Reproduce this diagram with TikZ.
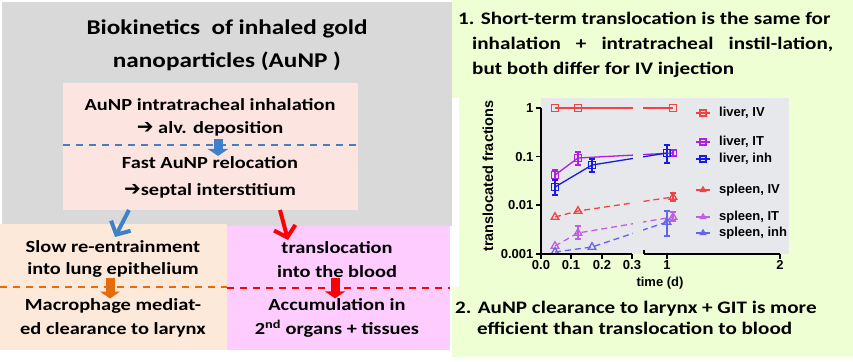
\documentclass[tikz,border=0pt]{standalone}
\usepackage{fontspec}
\setmainfont{Carlito}[FakeStretch=1.2]
\newfontfamily\arrowfont{DejaVu Sans}
\newfontfamily\chartfont{Liberation Sans}
\usetikzlibrary{arrows.meta,positioning,plotmarks}

\definecolor{panelgray}{HTML}{D9D9D9}
\definecolor{toppink}{HTML}{FCE5E0}
\definecolor{peach}{HTML}{FDE9D9}
\definecolor{lilac}{HTML}{FFCCFF}
\definecolor{lightgreen}{HTML}{EFFFD4}
\definecolor{plotgray}{HTML}{E6E8EC}
\definecolor{dashblue}{HTML}{4A7EBB}
\definecolor{arrowblue}{HTML}{3F80C8}
\definecolor{dashorange}{HTML}{E46C0A}
\definecolor{ivred}{HTML}{F04444}
\definecolor{itpurple}{HTML}{B020E0}
\definecolor{inhblue}{HTML}{1A1AE6}
\definecolor{itorchid}{HTML}{C060E0}
\definecolor{inhviolet}{HTML}{6464F0}

\newcommand{\rarrow}{{\arrowfont\fontsize{20}{20}\selectfont ➔}}

\begin{document}
\begin{tikzpicture}[x=1pt, y=-1pt,
  heading/.style={font=\bfseries\fontsize{21}{33}\selectfont, align=center, inner sep=0pt},
  boxtext/.style={font=\bfseries\fontsize{17}{23}\selectfont, align=center, inner sep=0pt},
  notetext/.style={font=\bfseries\fontsize{17.6}{25}\selectfont, align=left, inner sep=0pt, anchor=west},
  fillbox/.style={inner sep=0pt, outer sep=0pt, anchor=north west},
  splitline/.style={line width=1.3pt, dash pattern=on 7pt off 6pt},
  blockarrow/.style={-{Triangle[length=7pt,width=20pt]}, line width=9pt},
  veearrow/.style={-{Straight Barb[length=10pt,width=22pt,line width=4pt]}, line width=4pt},
  ticklabel/.style={font=\chartfont\bfseries\fontsize{13}{15}\selectfont, inner sep=0pt},
  legendtext/.style={font=\chartfont\bfseries\fontsize{13}{15}\selectfont, inner sep=0pt, anchor=west},
  series/.style={line width=1.3pt},
  errbar/.style={line width=1.1pt},
]
\useasboundingbox (0,0) rectangle (853,361);
\fill[white] (0,0) rectangle (853,361);

% left panel: biokinetics scheme
\fill[panelgray] (2,2) rectangle (452,226);
\node[heading] (title) at (227,45) {Biokinetics\ \ of inhaled gold\\nanoparticles (AuNP )};

\node[fillbox, fill=toppink, minimum width=295pt, minimum height=127pt] (topbox) at (63,83) {};
\node[boxtext] (deposit) at (210,117) {AuNP intratracheal inhalation\\ \rarrow\ alv. deposition};
\node[boxtext, font=\bfseries\fontsize{17}{27}\selectfont] (reloc) at (210,177) {Fast AuNP relocation\\\rarrow septal interstitium};
\draw[splitline, dashblue] (topbox.west |- 0,145) -- (topbox.east |- 0,145);
\draw[blockarrow, arrowblue] ([xshift=8pt,yshift=-3pt]deposit.south) -- ([xshift=8pt]reloc.north);

\node[fillbox, fill=peach, minimum width=227pt, minimum height=126pt] (peachbox) at (0,224) {};
\node[fillbox, fill=lilac, minimum width=223pt, minimum height=124pt] (pinkbox) at (227,226) {};

\node[boxtext, font=\bfseries\fontsize{17}{22}\selectfont] (slow) at (113,259) {Slow re-entrainment\\into lung epithelium};
\node[boxtext, font=\bfseries\fontsize{17}{24}\selectfont] (macro) at (113,318) {Macrophage mediat-\\ed clearance to larynx};
\node[boxtext, font=\bfseries\fontsize{17}{24}\selectfont] (blood) at (337,260) {translocation\\into the blood};
\node[boxtext, font=\bfseries\fontsize{17}{24}\selectfont] (accum) at (337,318) {Accumulation in\\2\textsuperscript{nd} organs + tissues};

\draw[splitline, dashorange] (peachbox.west |- 0,287) -- (peachbox.east |- 0,287);
\draw[splitline, red] (pinkbox.west |- 0,288) -- (pinkbox.east |- 0,288);
\draw[blockarrow, dashorange] ([xshift=-3pt]slow.south) -- ([xshift=-3pt]macro.north);
\draw[blockarrow, red] ([xshift=-2pt]blood.south) -- ([xshift=-2pt]accum.north);

\draw[veearrow, arrowblue] ([xshift=66pt]topbox.south west) -- ([xshift=115pt,yshift=-13pt]peachbox.north west);
\draw[veearrow, red] ([xshift=217pt]topbox.south west) -- ([xshift=61pt,yshift=-14pt]pinkbox.north west);

% right panel: findings and chart
\fill[lightgreen] (452,0) rectangle (853,357);
\fill[white] (452,98) rectangle (459,287);
\node[notetext] (note1) at (458,45) {1. Short-term translocation is the same for\\
  \hspace*{14pt}\makebox[361pt][s]{inhalation + intratracheal instil-lation,}\\
  \hspace*{14pt}but both differ for IV injection};
\node[notetext, font=\bfseries\fontsize{17.6}{21}\selectfont] (note2) at (455,318) {2. AuNP clearance to larynx + GIT is more\\
  \hspace*{22pt}efficient than translocation to blood};

\fill[plotgray] (541,98) rectangle (789,254);

% error bars
\foreach \ex/\elo/\ehi in {555/170/180, 578/152/165, 673/150/156}
  \draw[errbar, itpurple] (\ex,\elo) -- (\ex,\ehi) (\ex-3,\elo) -- (\ex+3,\elo) (\ex-3,\ehi) -- (\ex+3,\ehi);
\foreach \ex/\elo/\ehi in {555/180/195, 592/159/172, 667/145/163}
  \draw[errbar, inhblue] (\ex,\elo) -- (\ex,\ehi) (\ex-3,\elo) -- (\ex+3,\elo) (\ex-3,\ehi) -- (\ex+3,\ehi);
\foreach \ex/\elo/\ehi in {673/193/201}
  \draw[errbar, ivred] (\ex,\elo) -- (\ex,\ehi) (\ex-3,\elo) -- (\ex+3,\elo) (\ex-3,\ehi) -- (\ex+3,\ehi);
\foreach \ex/\elo/\ehi in {578/226/239, 673/212/221}
  \draw[errbar, itorchid] (\ex,\elo) -- (\ex,\ehi) (\ex-3,\elo) -- (\ex+3,\elo) (\ex-3,\ehi) -- (\ex+3,\ehi);
\foreach \ex/\elo/\ehi in {667/211/236}
  \draw[errbar, inhviolet] (\ex,\elo) -- (\ex,\ehi) (\ex-3,\elo) -- (\ex+3,\elo) (\ex-3,\ehi) -- (\ex+3,\ehi);

% series lines
\draw[series, ivred] (555,108) -- (578,108) -- (673,108);
\draw[series, itpurple] (555,175) -- (578,158) -- (673,153);
\draw[series, inhblue] (555,187) -- (592,165) -- (667,153);
\draw[series, ivred, dash pattern=on 6pt off 4pt] (555,217) -- (578,211) -- (673,197);
\draw[series, itorchid, dash pattern=on 6pt off 4pt] (555,246) -- (578,233) -- (673,217);
\draw[series, inhviolet, dash pattern=on 6pt off 4pt] (555,252) -- (592,247) -- (667,222);
% axis break
\fill[plotgray] (633,99) rectangle (643,253);

% markers
\draw[series, ivred] plot[only marks, mark=square, mark size=3.8pt, mark options={fill=plotgray}] coordinates {(555,108) (578,108) (673,108)};
\draw[series, itpurple] plot[only marks, mark=square, mark size=3.8pt, mark options={fill=plotgray}] coordinates {(555,175) (578,158) (673,153)};
\draw[series, inhblue] plot[only marks, mark=square, mark size=3.8pt, mark options={fill=plotgray}] coordinates {(555,187) (592,165) (667,153)};
\draw[series, ivred] plot[only marks, mark=triangle, mark size=4.3pt, mark options={fill=plotgray}] coordinates {(555,217) (578,211) (673,197)};
\draw[series, itorchid] plot[only marks, mark=triangle, mark size=4.3pt, mark options={fill=plotgray}] coordinates {(555,246) (578,233) (673,217)};
\draw[series, inhviolet] plot[only marks, mark=triangle, mark size=4.3pt, mark options={fill=plotgray}] coordinates {(555,252) (592,247) (667,222)};

% axes
\draw[line width=1.2pt] (541,108) -- (541,254) -- (632,254) (644,254) -- (780,254);
\foreach \ty/\tl in {108/1, 156.6/0.1, 205/0.01, 254/0.001}
  \draw[line width=1.2pt] (541,\ty) -- (536,\ty) node[ticklabel, anchor=east, xshift=-2pt] (ytick\tl) {\tl};
\foreach \tx/\tl in {541/0.0, 571/0.1, 602/0.2, 632/0.3, 667/1, 780/2}
  \draw[line width=1.2pt] (\tx,254) -- (\tx,259) node[ticklabel, anchor=north, yshift=-1pt] (xtick\tx) {\tl};
\draw[line width=1.2pt] (644,250) -- (644,254);
\node[ticklabel] (xlabel) at (660,283) {time (d)};
\node[ticklabel, rotate=90, font=\chartfont\bfseries\fontsize{14.5}{16}\selectfont] (ylabel) at (488,176) {translocated fractions};

% legend
\foreach \ly/\col/\mk/\txt in {113/ivred/square/{liver, IV}, 142/itpurple/square/{liver, IT},
    159/inhblue/square/{liver, inh}, 190/ivred/triangle/{spleen, IV},
    217/itorchid/triangle/{spleen, IT}, 233/inhviolet/triangle/{spleen, inh}}
{
  \draw[series, color=\col] (696,\ly) -- (710,\ly);
  \draw[series, color=\col] plot[only marks, mark=\mk, mark size=3pt, mark options={fill=plotgray}] coordinates {(703,\ly)};
  \node[legendtext] (leg\ly) at (719,\ly) {\txt};
}
\end{tikzpicture}
\end{document}
